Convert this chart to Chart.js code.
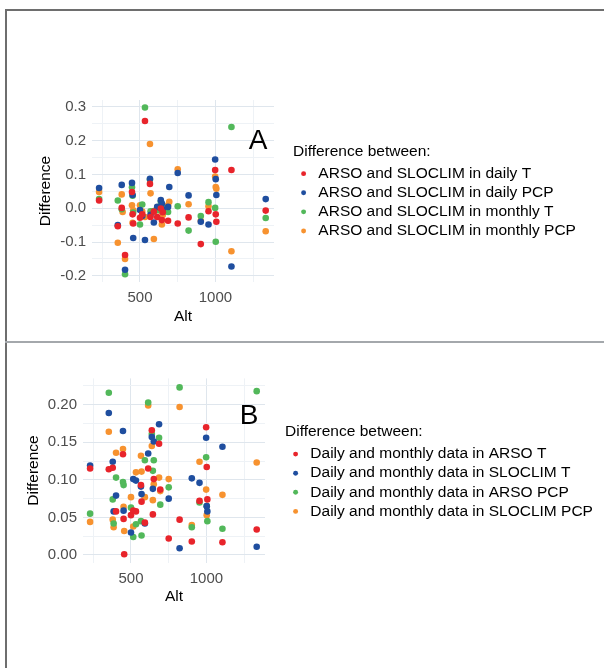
<!DOCTYPE html>
<html>
<head>
<meta charset="utf-8">
<script src="https://cdn.jsdelivr.net/npm/chart.js@4.4.0/dist/chart.umd.min.js"></script>
<style>
  body { margin: 0; background: #fff; width: 604px; height: 668px; position: relative; overflow: hidden; }
  .frame { position: absolute; left: 5px; top: 9px; width: 610px; height: 670px; border-left: 2px solid #6e6e6e; border-top: 2px solid #6e6e6e; }
  .divider { position: absolute; left: 5px; top: 341px; width: 610px; border-top: 2px solid #a4a8ac; }
  canvas { position: absolute; left: 0; }
  #panelA { top: 10px; }
  #panelB { top: 340px; }
</style>
</head>
<body>
<div class="frame"></div>
<div class="divider"></div>
<canvas id="panelA" width="604" height="330"></canvas>
<canvas id="panelB" width="604" height="328"></canvas>
<script>
// station altitudes (shared by both panels)
const alt = [229, 353, 379, 385, 401, 447, 451, 455, 500, 515, 533, 566, 570, 592, 614,
             638, 645, 651, 686, 694, 750, 822, 903, 954, 998, 1002, 1006, 1106, 1333];

// panel A: ARSO vs SLOCLIM
const labelsA = ['ARSO and SLOCLIM in daily T', 'ARSO and SLOCLIM in daily PCP',
                 'ARSO and SLOCLIM in monthly T', 'ARSO and SLOCLIM in monthly PCP'];
const dailyT_A = [0.023, -0.053, 0.001, null, -0.138, 0.048, -0.018, -0.045, -0.028, -0.018, 0.258, 0.072, -0.026, -0.010, -0.026,
                  -0.001, -0.035, -0.012, -0.037, null, -0.045, -0.027, -0.106, -0.009, 0.113, -0.018, -0.040, 0.113, -0.007];
const dailyP_A = [0.060, -0.050, 0.069, null, -0.182, 0.075, 0.039, -0.088, -0.005, -0.023, -0.094, 0.087, -0.019, -0.042, 0.004,
                  0.024, 0.014, -0.003, 0.004, 0.063, 0.104, 0.038, -0.040, -0.048, 0.144, 0.086, 0.039, -0.172, 0.027];
const monthT_A = [0.027, 0.023, -0.003, null, -0.195, 0.062, 0.037, -0.013, -0.048, 0.011, 0.298, 0.085, -0.009, -0.008, -0.006,
                  0.019, 0.009, -0.010, -0.011, null, 0.006, -0.066, -0.023, 0.018, 0.001, -0.099, null, 0.240, -0.029];
const monthP_A = [0.048, -0.102, 0.041, -0.011, -0.150, 0.009, -0.043, -0.006, 0.009, -0.010, -0.026, 0.190, 0.044, -0.091, 0.003,
                  -0.008, -0.048, -0.020, 0.009, 0.019, 0.115, 0.012, -0.037, 0.006, 0.094, 0.063, 0.058, -0.127, -0.068];

// panel B: daily vs monthly
const labelsB = ['Daily and monthly data in ARSO T', 'Daily and monthly data in SLOCLIM T',
                 'Daily and monthly data in ARSO PCP', 'Daily and monthly data in SLOCLIM PCP'];
const arsoT_B = [0.115, 0.114, 0.116, null, 0.058, 0.134, 0.048, 0.001, 0.053, 0.059, 0.058, 0.093, 0.071, 0.043, 0.115,
                 0.166, 0.054, 0.101, 0.148, 0.087, 0.022, 0.047, 0.018, 0.072, 0.170, 0.117, 0.074, 0.017, 0.034];
const slocT_B = [0.119, 0.189, 0.124, 0.058, 0.079, 0.165, 0.059, null, 0.030, 0.101, 0.099, 0.091, 0.081, 0.042, 0.135,
                 0.157, 0.088, 0.151, 0.174, null, 0.075, 0.009, 0.102, 0.096, 0.156, 0.065, 0.058, 0.144, 0.011];
const arsoP_B = [0.055, 0.216, 0.074, 0.042, 0.103, 0.097, 0.093, null, 0.063, 0.024, 0.041, 0.045, 0.026, 0.126, 0.203,
                 0.161, 0.112, 0.126, 0.156, 0.067, 0.090, 0.223, 0.037, 0.070, 0.130, 0.065, 0.045, 0.035, 0.218];
const slocP_B = [0.044, 0.164, 0.047, 0.037, 0.136, 0.141, 0.064, 0.032, 0.077, 0.038, 0.110, 0.132, 0.111, 0.077, 0.199,
                 0.145, 0.073, 0.094, 0.103, 0.085, 0.101, 0.197, 0.040, 0.124, 0.087, 0.053, null, 0.080, 0.123];

// axis ticks
const xMajor = [500, 1000];
const xMinor = [250, 750, 1250];
const yMajorA = [-0.2, -0.1, 0.0, 0.1, 0.2, 0.3];
const yMinorA = [-0.15, -0.05, 0.05, 0.15, 0.25];
const yMajorB = [0.00, 0.05, 0.10, 0.15, 0.20];
const yMinorB = [0.025, 0.075, 0.125, 0.175, 0.225];

const colors = ['#e8242b', '#1f4e9f', '#52b85a', '#f7922f'];

Chart.defaults.font.family = '"Liberation Sans", Arial, sans-serif';

function points(ys) {
    return alt.map((a, i) => ({ x: a, y: ys[i] })).filter(p => p.y !== null);
}

function isIn(list, v) {
    return list.some(m => Math.abs(m - v) < 1e-9);
}

// big panel letter in the upper right corner of the plot
const panelLetter = {
    id: 'panelLetter',
    afterDraw(chart, args, opts) {
        const { ctx, chartArea } = chart;
        ctx.save();
        ctx.font = '28px "Liberation Sans", Arial, sans-serif';
        ctx.fillStyle = '#000';
        ctx.textAlign = 'center';
        ctx.fillText(opts.text, chartArea.right - 16, chartArea.top + opts.dy);
        ctx.restore();
    }
};

function makePanel(id, p) {
    return new Chart(document.getElementById(id).getContext('2d'), {
        type: 'scatter',
        data: {
            datasets: p.series.map((ys, i) => ({
                label: p.labels[i],
                data: points(ys),
                backgroundColor: colors[i],
                borderWidth: 0,
                pointRadius: 3.3,
                pointHoverRadius: 3.3
            }))
        },
        plugins: [panelLetter],
        options: {
            responsive: false,
            animation: false,
            layout: { padding: p.padding },
            scales: {
                x: {
                    type: 'linear', min: 182, max: 1388,
                    afterBuildTicks: s => { s.ticks = xMinor.concat(xMajor).sort((a, b) => a - b).map(v => ({ value: v })); },
                    afterFit: s => { s.height = 58; },
                    grid: { color: c => isIn(xMajor, c.tick.value) ? '#dfe6ed' : '#eef2f6', drawTicks: false },
                    border: { display: false },
                    ticks: {
                        autoSkip: false, maxRotation: 0, padding: 7, color: '#4d4d4d', font: { size: 15 },
                        callback: v => isIn(xMajor, v) ? String(v) : ''
                    },
                    title: { display: true, text: 'Alt', color: '#000', font: { size: 15.5 }, padding: { top: 0, bottom: 14 } }
                },
                y: {
                    type: 'linear', min: p.yMin, max: p.yMax,
                    afterBuildTicks: s => { s.ticks = p.yMinor.concat(p.yMajor).sort((a, b) => a - b).map(v => ({ value: v })); },
                    afterFit: s => { s.width = p.yWidth; },
                    grid: { color: c => isIn(p.yMajor, c.tick.value) ? '#dfe6ed' : '#eef2f6', drawTicks: false },
                    border: { display: false },
                    ticks: {
                        autoSkip: false, padding: 6, color: '#4d4d4d', font: { size: 15 },
                        callback: v => isIn(p.yMajor, v) ? v.toFixed(p.digits) : ''
                    },
                    title: { display: true, text: 'Difference', color: '#000', font: { size: 15.5 }, padding: { top: p.yTitlePad, bottom: 0 } }
                },
                // empty axis that only makes the gap between plot and legend
                gap: {
                    type: 'linear', position: 'right',
                    grid: { display: false }, ticks: { display: false }, border: { display: false },
                    afterFit: s => { s.width = p.gap; }
                }
            },
            plugins: {
                legend: {
                    position: 'right', align: 'center', fullSize: false, maxWidth: p.legendWidth,
                    title: {
                        display: true, text: 'Difference between:', position: 'start', color: '#000',
                        font: { size: 15.5 }, padding: { top: p.legendShift, bottom: 0 }
                    },
                    labels: { usePointStyle: true, boxWidth: 14, boxHeight: 3.5, padding: 3.6, color: '#000', font: { size: 15.5 } }
                },
                tooltip: { enabled: false },
                panelLetter: { text: p.letter, dy: p.letterDy }
            }
        }
    });
}

makePanel('panelA', {
    labels: labelsA, series: [dailyT_A, dailyP_A, monthT_A, monthP_A],
    yMin: -0.218, yMax: 0.32, yMajor: yMajorA, yMinor: yMinorA, digits: 1,
    yWidth: 92, yTitlePad: 36.5, gap: 19, legendWidth: 290, legendShift: 4,
    padding: { top: 90, right: 21, bottom: 0, left: 0 },
    letter: 'A', letterDy: 49
});

makePanel('panelB', {
    labels: labelsB, series: [arsoT_B, slocT_B, arsoP_B, slocP_B],
    yMin: -0.01, yMax: 0.235, yMajor: yMajorB, yMinor: yMinorB, digits: 2,
    yWidth: 83, yTitlePad: 24, gap: 20, legendWidth: 312, legendShift: 6,
    padding: { top: 38.4, right: 7, bottom: 47.5, left: 0 },
    letter: 'B', letterDy: 46
});
</script>
</body>
</html>
